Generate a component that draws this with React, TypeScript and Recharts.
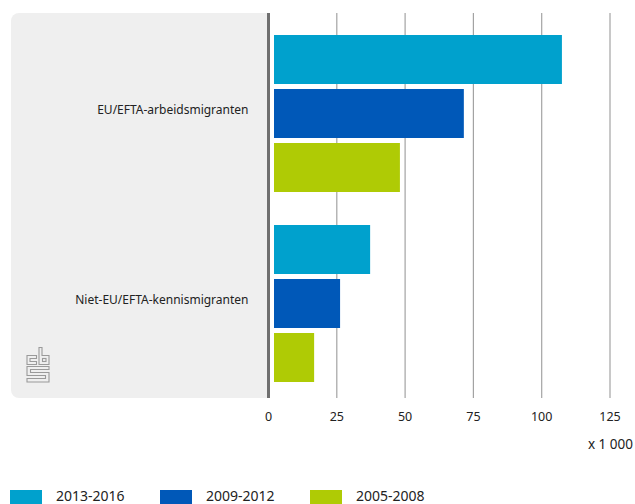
import React from 'react';
import { BarChart, Bar, XAxis, YAxis, CartesianGrid } from 'recharts';

const categories = ['EU/EFTA-arbeidsmigranten', 'Niet-EU/EFTA-kennismigranten'];
const values2013 = [107.4, 37.2];
const values2009 = [71.5, 26.2];
const values2005 = [48.1, 16.7];
const xTicks = [0, 25, 50, 75, 100, 125];

const seriesNames = ['2013-2016', '2009-2012', '2005-2008'];
const seriesKeys = ['p2013', 'p2009', 'p2005'];
const seriesColors = ['#00a1cd', '#0058b8', '#afcb05'];

const data = categories.map((name, i) => ({
  name,
  p2013: values2013[i],
  p2009: values2009[i],
  p2005: values2005[i],
}));

const FONT = '"Noto Sans", "Open Sans", sans-serif';

// bars start a few px right of the axis line
const InsetBar = (props: any) => {
  const { x, y, width, height, fill } = props;
  const inset = 5.5;
  return <rect x={x + inset} y={y} width={Math.max(0, width - inset)} height={height} fill={fill} />;
};

const CategoryTick = (props: any) => {
  const { x, y, payload } = props;
  return (
    <text x={x - 18} y={y - 3} dy="0.355em" textAnchor="end" fontSize={12} fill="#222" fontFamily={FONT}>
      {payload.value}
    </text>
  );
};

const CbsLogo = () => (
  <svg width={24} height={36} viewBox="0 0 24 36" style={{ position: 'absolute', left: 26, top: 347 }}>
    <g fill="none" stroke="#9a9a9a" strokeWidth={1.1}>
      <path d="M10.5 8.5 H1 V17.5 H10.5 V14.5 H4 V11.5 H10.5 Z" />
      <path d="M13 0.5 H16 V8.5 H23 V17.5 H13 Z" />
      <rect x={16.5} y={11.5} width={3.5} height={3} />
      <path d="M23 19.5 H1 V28.5 H19.5 V31.5 H1 V35 H23 V25.5 H4.5 V22.5 H23 Z" />
    </g>
  </svg>
);

export default function App() {
  return (
    <div style={{ position: 'absolute', left: 0, top: 0, width: 635, height: 504, overflow: 'hidden', background: '#fff', fontFamily: FONT }}>
      <div
        style={{
          position: 'absolute',
          left: 11,
          top: 13,
          width: 257,
          height: 385,
          background: '#efefef',
          borderRadius: '8px 0 0 8px',
        }}
      />
      <CbsLogo />
      <div style={{ position: 'absolute', left: 0, top: 0 }}>
        <BarChart
          width={635}
          height={504}
          data={data}
          layout="vertical"
          margin={{ top: 13, right: 25, left: 0, bottom: 76 }}
          barGap={5}
          barCategoryGap={17}
        >
          <CartesianGrid horizontal={false} stroke="#a3a3a3" strokeWidth={1.2} />
          <XAxis
            type="number"
            domain={[0, 125]}
            ticks={xTicks}
            axisLine={false}
            tickLine={false}
            tickSize={0}
            tickMargin={14}
            height={30}
            tick={{ fontSize: 12.5, fill: '#222', fontFamily: FONT }}
          />
          <YAxis
            type="category"
            dataKey="name"
            width={268.5}
            padding={{ top: 5, bottom: 0 }}
            axisLine={{ stroke: '#6f6f6f', strokeWidth: 3 }}
            tickLine={false}
            tickSize={0}
            tick={<CategoryTick />}
          />
          {seriesKeys.map((k, i) => (
            <Bar key={k} dataKey={k} name={seriesNames[i]} fill={seriesColors[i]} shape={<InsetBar />} isAnimationActive={false} />
          ))}
        </BarChart>
      </div>
      <div style={{ position: 'absolute', right: 2, top: 435, fontSize: 13.5, color: '#222' }}>x 1 000</div>
      <div style={{ position: 'absolute', left: 10, top: 490, display: 'flex' }}>
        {seriesNames.map((n, i) => (
          <div key={n} style={{ display: 'flex', alignItems: 'flex-start', width: 150 }}>
            <div style={{ width: 32, height: 16, background: seriesColors[i], marginRight: 14 }} />
            <span style={{ fontSize: 14, lineHeight: '14px', color: '#222', marginTop: -1 }}>{n}</span>
          </div>
        ))}
      </div>
    </div>
  );
}
